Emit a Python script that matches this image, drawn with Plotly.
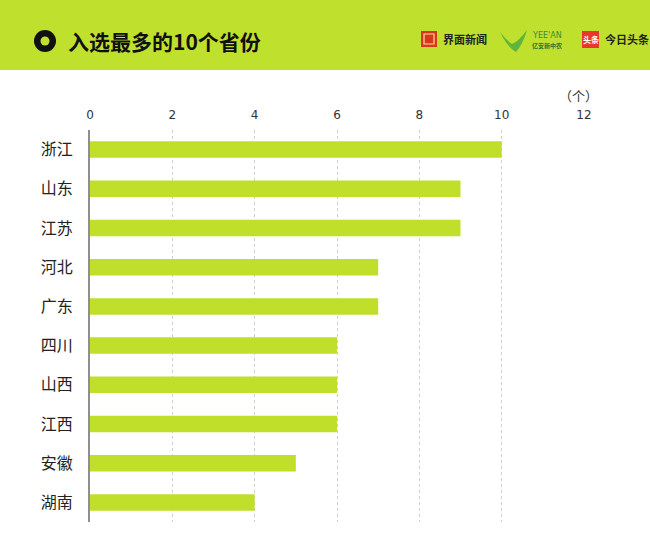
import plotly.graph_objects as go

provinces = ["浙江", "山东", "江苏", "河北", "广东", "四川", "山西", "江西", "安徽", "湖南"]
counts = [10, 9, 9, 7, 7, 6, 6, 6, 5, 4]
tick_values = [0, 2, 4, 6, 8, 10, 12]
tick_labels = ["0", "2", "4", "6", "8", "10", "12"]
title_text = "入选最多的10个省份"
unit_text = "（个）"

W, H = 650, 560
L, R, T, B = 90, 584, 130, 522  # plot area in pixels

def px(x):
    return (x - L) / (R - L)

def py(y):
    return (B - y) / (B - T)

FONT = "Noto Sans CJK SC"
LIME = "#c0e02e"

fig = go.Figure(go.Bar(
    x=counts, y=provinces, orientation="h",
    marker=dict(color="#bfdf2b", line=dict(width=0)),
    width=0.42, hoverinfo="skip",
))

shapes = [
    # header band
    dict(type="rect", xref="paper", yref="paper", x0=px(0), x1=px(W), y0=py(70), y1=py(0),
         fillcolor=LIME, line=dict(width=0), layer="below"),
    # ring icon
    dict(type="circle", xref="paper", yref="paper", x0=px(34), x1=px(56), y0=py(52), y1=py(30),
         fillcolor="#111111", line=dict(width=0)),
    dict(type="circle", xref="paper", yref="paper", x0=px(40.5), x1=px(49.5), y0=py(45.5), y1=py(36.5),
         fillcolor=LIME, line=dict(width=0)),
    # 界面 icon
    dict(type="rect", xref="paper", yref="paper", x0=px(421), x1=px(437), y0=py(47), y1=py(31),
         fillcolor="#d9361c", line=dict(width=0)),
    dict(type="rect", xref="paper", yref="paper", x0=px(424), x1=px(434), y0=py(44), y1=py(34),
         fillcolor="rgba(0,0,0,0)", line=dict(width=1.2, color="#ffd9a0")),
    # 头条 icon
    dict(type="rect", xref="paper", yref="paper", x0=px(582), x1=px(599), y0=py(48), y1=py(31),
         fillcolor="#e8372c", line=dict(width=0)),
    # YEE'AN leaf
    dict(type="path", xref="paper", yref="paper",
         path=f"M {px(500)} {py(32)} Q {px(508)} {py(48)} {px(516)} {py(52)} Q {px(523)} {py(44)} {px(527)} {py(30)} Q {px(518)} {py(42)} {px(512)} {py(44)} Q {px(506)} {py(40)} {px(500)} {py(32)} Z",
         fillcolor="#5fb63a", line=dict(width=0)),
]

annotations = [
    dict(text=f"<b>{title_text}</b>", x=px(66), y=py(41), xref="paper", yref="paper",
         xanchor="left", yanchor="middle", showarrow=False,
         font=dict(family=FONT, size=21, color="#111111")),
    dict(text="<b>界面新闻</b>", x=px(441), y=py(39), xref="paper", yref="paper",
         xanchor="left", yanchor="middle", showarrow=False,
         font=dict(family=FONT, size=11, color="#222222")),
    dict(text="YEE'AN", x=px(530), y=py(35), xref="paper", yref="paper",
         xanchor="left", yanchor="middle", showarrow=False,
         font=dict(family="DejaVu Sans", size=8, color="#3d8a3a")),
    dict(text="<b>亿安新中农</b>", x=px(530), y=py(45), xref="paper", yref="paper",
         xanchor="left", yanchor="middle", showarrow=False,
         font=dict(family=FONT, size=6, color="#2f6f2f")),
    dict(text="<b>头条</b>", x=px(590.5), y=py(39.5), xref="paper", yref="paper",
         xanchor="center", yanchor="middle", showarrow=False,
         font=dict(family=FONT, size=8, color="#ffffff")),
    dict(text="<b>今日头条</b>", x=px(603), y=py(39), xref="paper", yref="paper",
         xanchor="left", yanchor="middle", showarrow=False,
         font=dict(family=FONT, size=11, color="#222222")),
    dict(text=unit_text, x=px(578), y=py(96), xref="paper", yref="paper",
         xanchor="center", yanchor="middle", showarrow=False,
         font=dict(family=FONT, size=13, color="#333333")),
]

fig.update_layout(
    width=W, height=H,
    margin=dict(l=L, r=W - R, t=T, b=H - B, pad=0),
    paper_bgcolor="white", plot_bgcolor="white",
    showlegend=False,
    shapes=shapes, annotations=annotations,
    xaxis=dict(side="top", range=[0, 12], tickvals=tick_values, ticktext=tick_labels,
               showgrid=True, gridcolor="#cfcfcf", griddash="dot", gridwidth=1,
               zeroline=False, showline=False,
               ticks="outside", ticklen=5, tickcolor="rgba(0,0,0,0)",
               tickfont=dict(family="DejaVu Sans", size=12, color="#333333"),
               fixedrange=True),
    yaxis=dict(autorange="reversed", showgrid=False, zeroline=False,
               showline=True, linecolor="#8f8f8f", linewidth=2,
               ticks="outside", ticklen=12, tickcolor="rgba(0,0,0,0)",
               tickfont=dict(family=FONT, size=16, color="#222222"),
               fixedrange=True),
    bargap=0.58,
)

fig.write_html("out.html", config={"displayModeBar": False},
               post_script="document.body.style.margin='0';document.body.style.padding='0';document.body.style.overflow='hidden';")
